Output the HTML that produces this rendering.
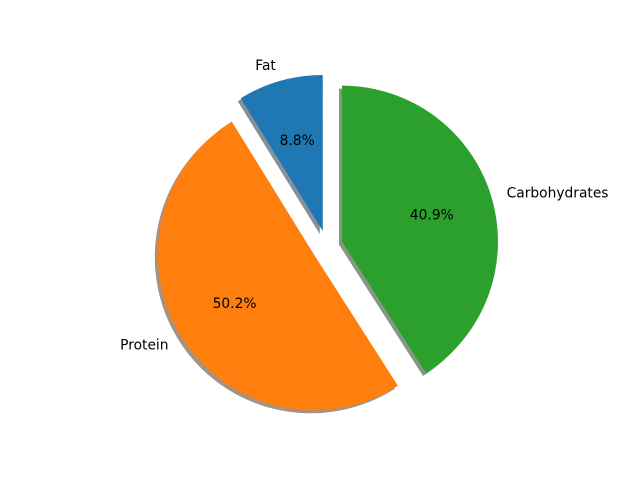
<!DOCTYPE html>
<html><head><meta charset="utf-8"><style>
body{margin:0;background:#fff}
svg text{font-family:"DejaVu Sans","Liberation Sans",sans-serif;font-size:13.8px;fill:#000}
</style></head><body>
<svg id="chart" width="640" height="480" viewBox="0 0 640 480"></svg>
<script>
const categories=["Fat","Protein","Carbohydrates"];
const values=[8.8,50.2,40.9];
const explodes=[0.1,0.1,0.1];
const colors=["#1f77b4","#ff7f0e","#2ca02c"];
const svg=document.getElementById('chart');
const NS="http://www.w3.org/2000/svg";
const cx=327,cy=246,R=156,startAngle=90;
const total=values.reduce((a,b)=>a+b,0);
function pt(x,y,a,r){const t=a*Math.PI/180;return [x+r*Math.cos(t),y-r*Math.sin(t)];}
function wedgePath(x,y,a1,a2){
  const p1=pt(x,y,a1,R),p2=pt(x,y,a2,R);
  const large=(a2-a1)>180?1:0;
  return `M${x},${y}L${p1[0]},${p1[1]}A${R},${R} 0 ${large} 0 ${p2[0]},${p2[1]}Z`;
}
let a=startAngle;
const wedges=[];
values.forEach((v,i)=>{
  const a1=a,a2=a+v/total*360;a=a2;
  const mid=(a1+a2)/2;
  const c=pt(cx,cy,mid,explodes[i]*R);
  wedges.push({a1,a2,mid,x:c[0],y:c[1]});
});
wedges.forEach((w,i)=>{
  const p=document.createElementNS(NS,'path');
  p.setAttribute('d',wedgePath(w.x-3,w.y+3,w.a1,w.a2));
  const col=colors[i].match(/\w\w/g).map(h=>Math.round(parseInt(h,16)*0.3));
  p.setAttribute('fill',`rgb(${col.join(',')})`);
  p.setAttribute('opacity','0.5');
  
  
  svg.appendChild(p);
});
wedges.forEach((w,i)=>{
  const p=document.createElementNS(NS,'path');
  p.setAttribute('d',wedgePath(w.x,w.y,w.a1,w.a2));
  p.setAttribute('fill',colors[i]);
  
  
  svg.appendChild(p);
  const lp=pt(w.x,w.y,w.mid,1.1*R);
  const t=document.createElementNS(NS,'text');
  t.setAttribute('x',lp[0]);t.setAttribute('y',lp[1]);
  t.setAttribute('text-anchor',lp[0]<w.x?'end':'start');
  t.setAttribute('dominant-baseline','central');
  t.textContent=categories[i];
  
  
  svg.appendChild(t);
  const pp=pt(w.x,w.y,w.mid,0.6*R);
  const t2=document.createElementNS(NS,'text');
  t2.setAttribute('x',pp[0]);t2.setAttribute('y',pp[1]);
  t2.setAttribute('text-anchor','middle');
  t2.setAttribute('dominant-baseline','central');
  t2.textContent=values[i].toFixed(1)+'%';
  
  
  svg.appendChild(t2);
});
</script>
</body></html>
